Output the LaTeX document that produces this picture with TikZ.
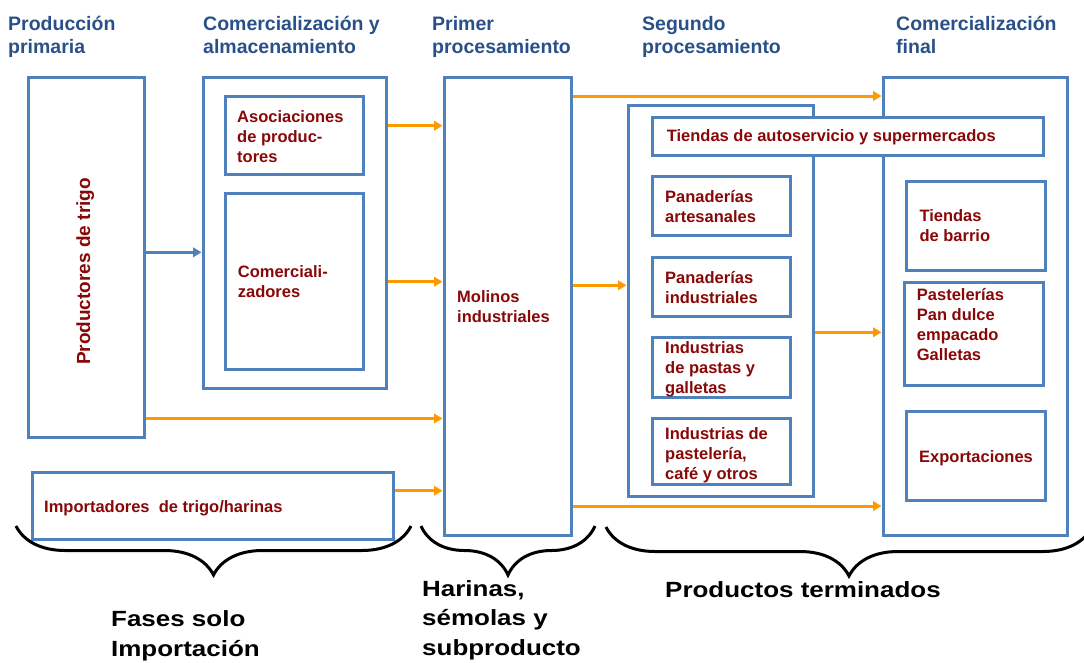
\documentclass[tikz,border=0pt]{standalone}
\usepackage{fontspec}
\setmainfont{Liberation Sans}
\newfontfamily\widefont{Liberation Sans}[FakeStretch=1.18]
\usetikzlibrary{arrows.meta,decorations.pathreplacing}
\definecolor{boxblue}{RGB}{79,129,189}
\definecolor{hdrblue}{RGB}{41,80,136}
\definecolor{txtred}{RGB}{136,8,8}
\definecolor{flow}{RGB}{255,153,0}
\begin{document}
\begin{tikzpicture}[x=1pt,y=-1pt,
  box/.style={draw=boxblue, line width=3pt, fill=white, inner sep=0pt},
  % multi-line nodes: the base anchor sits on the last line
  hdr/.style={font=\bfseries\fontsize{19.5}{23}\selectfont, text=hdrblue,
    align=left, anchor=base west, inner sep=0pt},
  lbl/.style={font=\bfseries\fontsize{16.5}{20}\selectfont, text=txtred,
    align=left, anchor=base west, inner sep=0pt},
  foot/.style={font=\widefont\bfseries\fontsize{22}{29.5}\selectfont, text=black,
    align=left, anchor=base west, inner sep=0pt},
  flowarrow/.style={draw=flow, line width=3pt,
    -{Triangle[length=8.5pt,width=9.5pt]}},
  bluearrow/.style={draw=boxblue, line width=2.7pt,
    -{Triangle[length=8.5pt,width=9.5pt]}},
  bracket/.style={draw=black, line width=3pt,
    decorate, decoration={brace, mirror, amplitude=49pt}}]
\useasboundingbox (0,0) rectangle (1084,662);

% column headings
\node[hdr] (h1) at (8,53.7) {Producción\\primaria};
\node[hdr] (h2) at (203,53.7) {Comercialización y\\almacenamiento};
\node[hdr] (h3) at (432,53.7) {Primer\\procesamiento};
\node[hdr] (h4) at (642,53.7) {Segundo\\procesamiento};
\node[hdr] (h5) at (896,53.7) {Comercialización\\final};

% outer frames
\node[box, minimum width=116pt, minimum height=360pt] (prod) at (86,257) {};
\node[box, minimum width=183pt, minimum height=311pt] (comout) at (294.5,232.5) {};
\node[box, minimum width=361pt, minimum height=67pt] (import) at (212.5,505.5) {};
\node[box, minimum width=127pt, minimum height=458pt] (molinos) at (507.5,306) {};
\node[box, minimum width=185pt, minimum height=391pt] (segout) at (720.5,300.5) {};
\node[box, minimum width=184pt, minimum height=458pt] (finout) at (975,306) {};

% inner boxes
\node[box, minimum width=138pt, minimum height=78pt] (asoc) at (294,135) {};
\node[box, minimum width=138pt, minimum height=176pt] (comerc) at (294,281) {};
\node[box, minimum width=391pt, minimum height=38pt] (super) at (847.5,136) {};
\node[box, minimum width=138pt, minimum height=59pt] (panart) at (721,205.5) {};
\node[box, minimum width=138pt, minimum height=59pt] (panind) at (721,286.5) {};
\node[box, minimum width=138pt, minimum height=60pt] (pastas) at (721,367) {};
\node[box, minimum width=138pt, minimum height=66pt] (pastel) at (721,451) {};
\node[box, minimum width=139pt, minimum height=89pt] (barrio) at (975.5,225.5) {};
\node[box, minimum width=139pt, minimum height=103pt] (dulce) at (973.5,333.5) {};
\node[box, minimum width=139pt, minimum height=89pt] (export) at (975.5,455.5) {};

% box labels
\node[lbl, anchor=base, rotate=90, font=\bfseries\fontsize{19}{22}\selectfont]
  (prod-t) at (90,271.5) {Productores de trigo};
\node[lbl] (asoc-t) at (237,162) {Asociaciones\\de produc-\\tores};
\node[lbl] (comerc-t) at (237.7,297.7) {Comerciali-\\zadores};
\node[lbl] (import-t) at (44,512) {Importadores\ \ de trigo/harinas};
\node[lbl] (molinos-t) at (457,322) {Molinos\\industriales};
\node[lbl] (super-t) at (666.6,141.7) {Tiendas de autoservicio y supermercados};
\node[lbl] (panart-t) at (665,222.3) {Panaderías\\artesanales};
\node[lbl] (panind-t) at (665,303.3) {Panaderías\\industriales};
\node[lbl] (pastas-t) at (665,393.3) {Industrias\\de pastas y\\galletas};
\node[lbl] (pastel-t) at (665,479) {Industrias de\\pastelería,\\café y otros};
\node[lbl] (barrio-t) at (919.3,241.7) {Tiendas\\de barrio};
\node[lbl] (dulce-t) at (916.7,360) {Pastelerías\\Pan dulce\\empacado\\Galletas};
\node[lbl] (export-t) at (919,462.3) {Exportaciones};

% flows
\draw[bluearrow] (prod.east |- 0,252.3) -- (comout.west |- 0,252.3);
\draw[flowarrow] (comout.east |- 0,125.7) -- (molinos.west |- 0,125.7);
\draw[flowarrow] (comout.east |- 0,281.7) -- (molinos.west |- 0,281.7);
\draw[flowarrow] (prod.east |- 0,418.5) -- (molinos.west |- 0,418.5);
\draw[flowarrow] (import.east |- 0,490.7) -- (molinos.west |- 0,490.7);
\draw[flowarrow] (molinos.east |- 0,96) -- (finout.west |- 0,96);
\draw[flowarrow] (molinos.east |- 0,285.3) -- (segout.west |- 0,285.3);
\draw[flowarrow] (segout.east |- 0,332.3) -- (finout.west |- 0,332.3);
\draw[flowarrow] (molinos.east |- 0,506) -- (finout.west |- 0,506);

% grouping braces
\coordinate (b1a) at (16,526);   \coordinate (b1b) at (411,526);
\coordinate (b2a) at (421,526);  \coordinate (b2b) at (595,526);
\coordinate (b3a) at (606,527);  \coordinate (b3b) at (1092,527);
\draw[bracket] (b1a) -- (b1b);
\draw[bracket] (b2a) -- (b2b);
\draw[bracket] (b3a) -- (b3b);

% captions under the braces
\node[foot] (f1) at (111,656.2) {Fases solo\\Importación};
\node[foot] (f2) at (422,655) {Harinas,\\sémolas y\\subproducto};
\node[foot] (f3) at (665,597.3) {Productos terminados};
\end{tikzpicture}
\end{document}
